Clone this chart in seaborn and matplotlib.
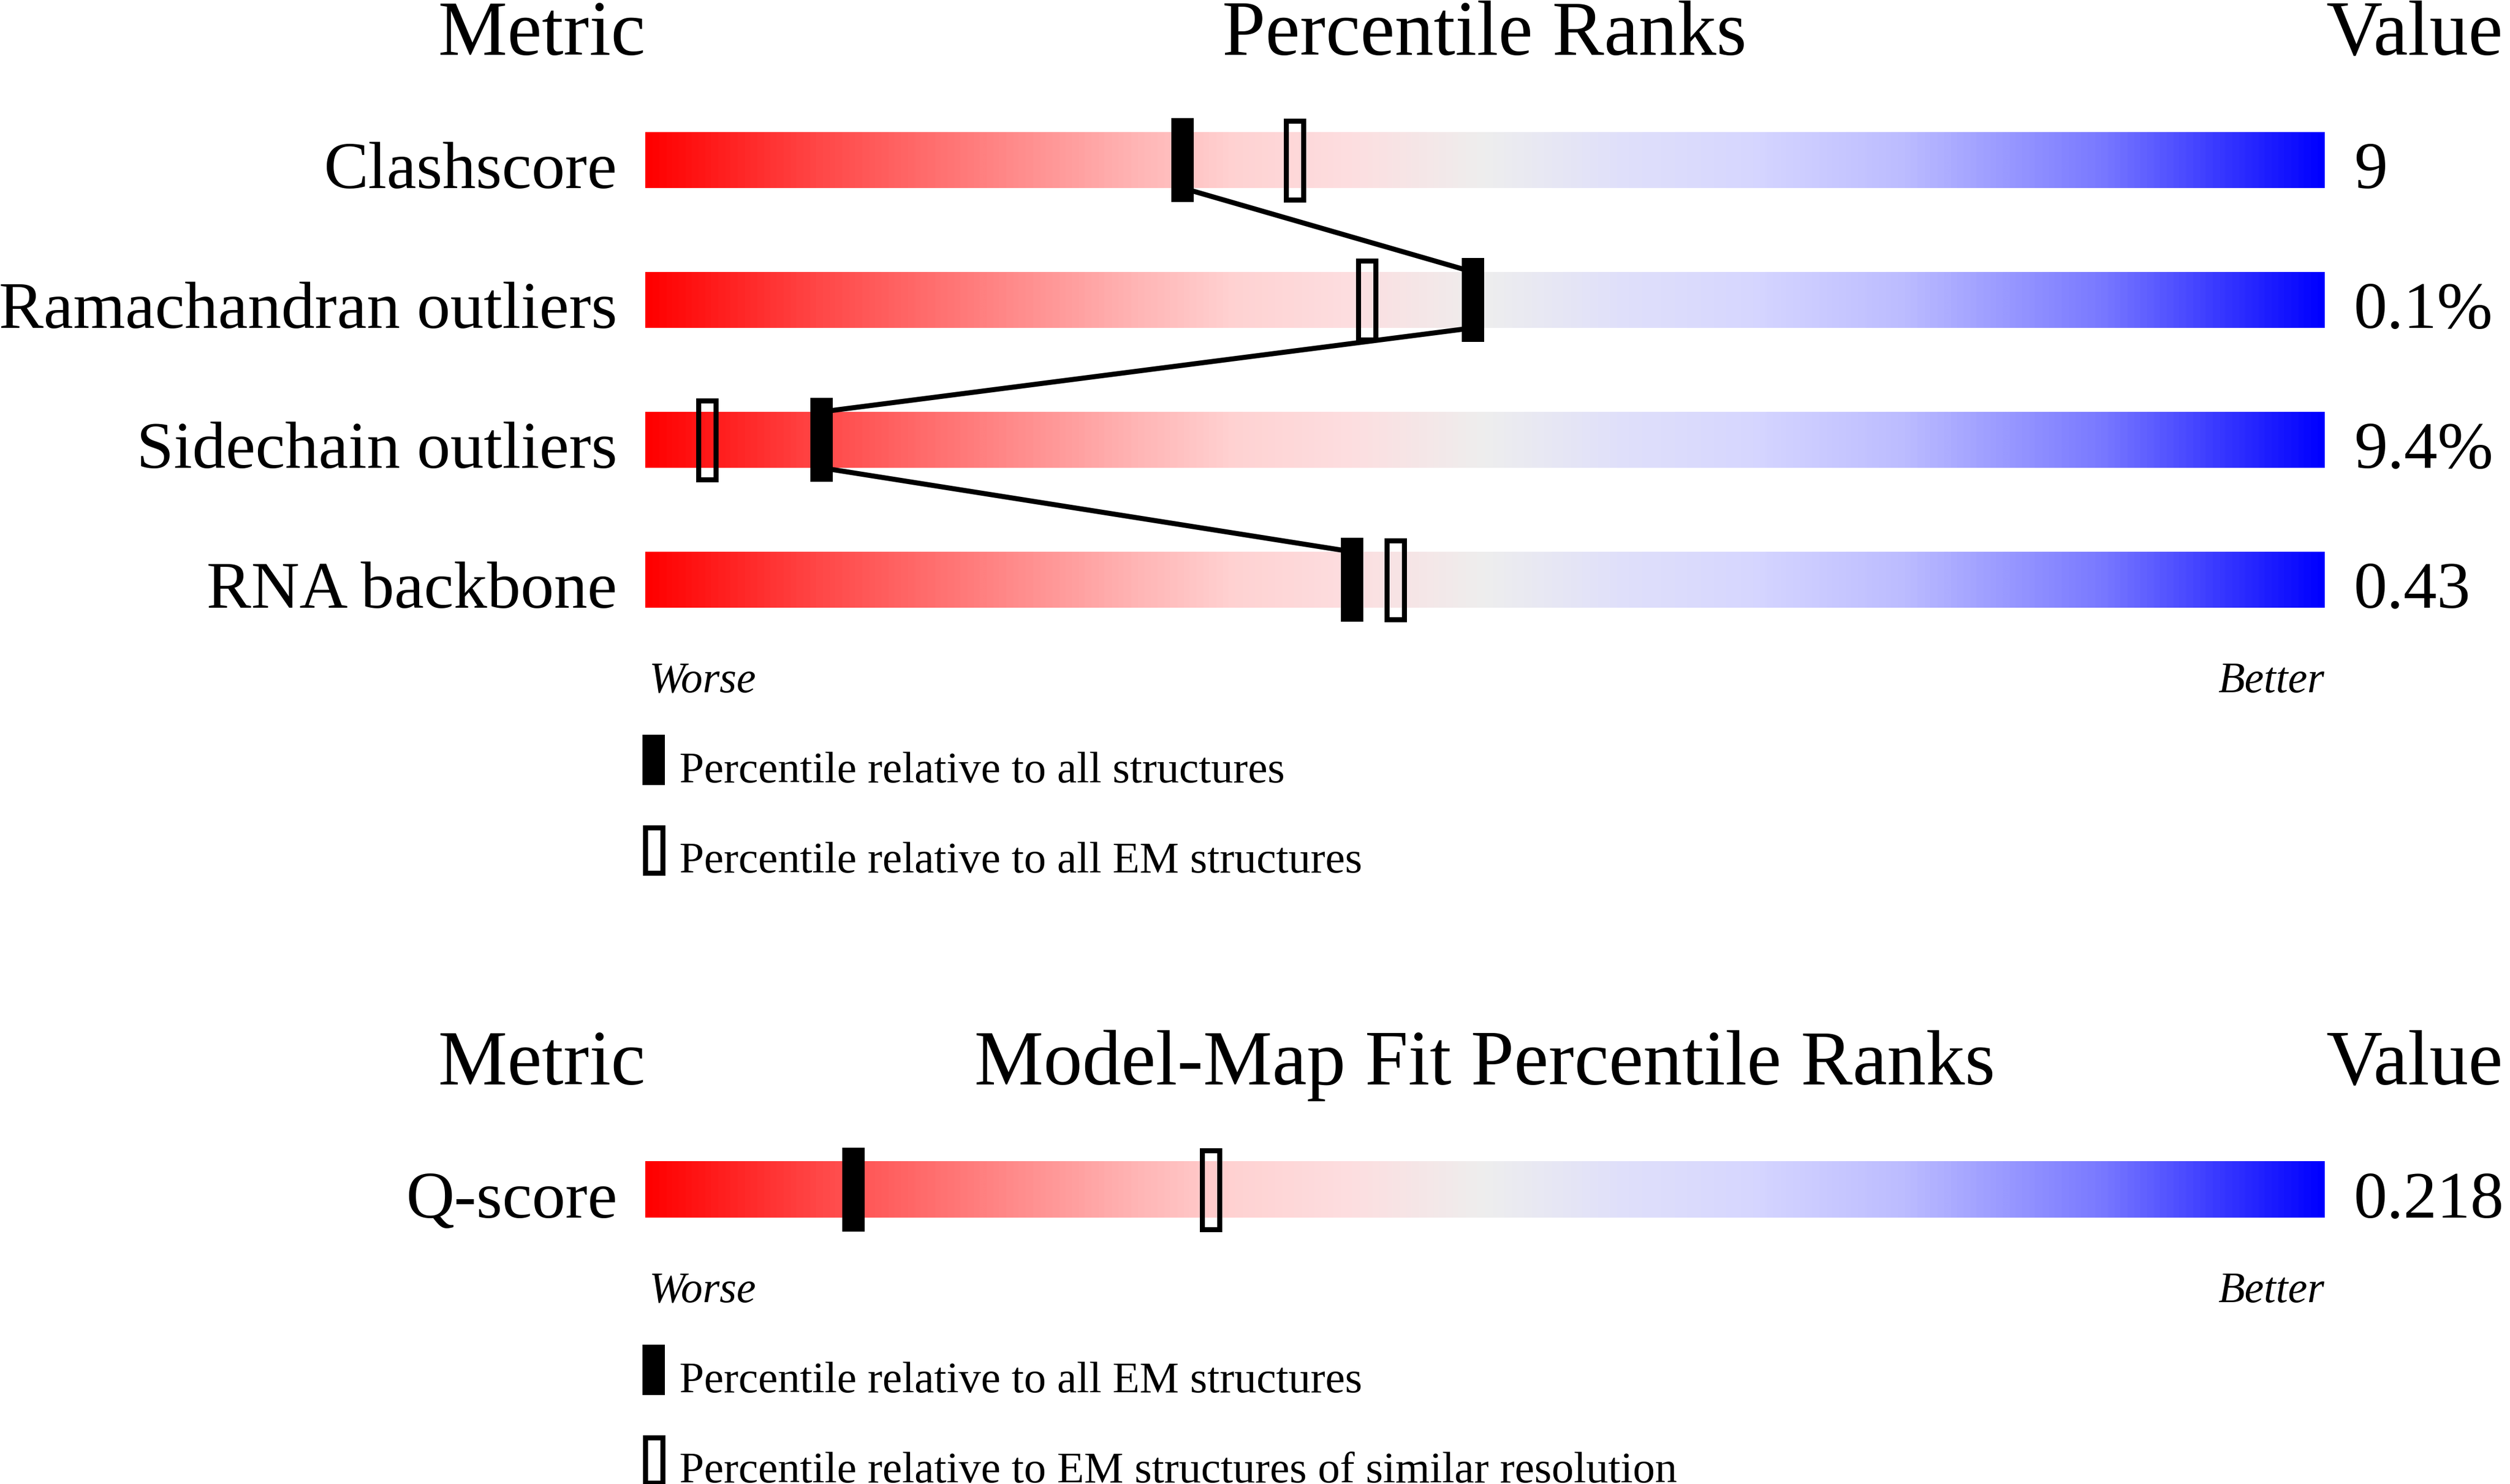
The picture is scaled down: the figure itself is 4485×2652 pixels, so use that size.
import numpy as np
import pandas as pd
import matplotlib
matplotlib.use("Agg")
import matplotlib.pyplot as plt
from matplotlib.patches import Rectangle
from matplotlib.colors import LinearSegmentedColormap
import seaborn as sns

# ---------------- data ----------------
metrics = ["Clashscore", "Ramachandran outliers", "Sidechain outliers", "RNA backbone"]
values = ["9", "0.1%", "9.4%", "0.43"]
pct_all = [32.0, 49.3, 10.5, 42.1]        # percentile relative to all structures
pct_em = [38.7, 43.0, 3.7, 44.7]          # percentile relative to all EM structures

fit_metrics = ["Q-score"]
fit_values = ["0.218"]
fit_pct_all_em = [12.4]                   # relative to all EM structures
fit_pct_similar = [33.7]                  # relative to EM structures of similar resolution

top_titles = ["Metric", "Percentile Ranks", "Value"]
bottom_titles = ["Metric", "Model-Map Fit Percentile Ranks", "Value"]
top_legend = ["Percentile relative to all structures", "Percentile relative to all EM structures"]
bottom_legend = ["Percentile relative to all EM structures",
                 "Percentile relative to EM structures of similar resolution"]
worse_better = ["Worse", "Better"]

# ---------------- style ----------------
sns.set_theme(style="white")
plt.rcParams["font.family"] = ["Liberation Serif", "DejaVu Serif"]
plt.rcParams["text.color"] = "black"

W, H, DPI = 4485, 2652, 100
fig = plt.figure(figsize=(W / DPI, H / DPI), dpi=DPI)
ax = fig.add_axes([0, 0, 1, 1])
ax.set_axis_off()

PX_X = 30.003      # pixels per percentile unit
BAR_LEFT = 1152.7  # pixel of 0 %
PX_Y = 250.0       # pixels per row
ROW0 = 286.0       # pixel centre of first row
ax.set_xlim(-BAR_LEFT / PX_X, (W - BAR_LEFT) / PX_X)
ax.set_ylim((H - ROW0) / PX_Y, -ROW0 / PX_Y)

stops = [(0.0, (255, 0, 0)), (0.10, (255, 70, 70)), (0.20, (255, 128, 128)),
         (0.29, (255, 180, 180)), (0.35, (255, 210, 210)), (0.42, (253, 222, 224)),
         (0.5, (238, 238, 238)), (0.58, (224, 224, 250)), (0.66, (214, 214, 255)),
         (0.75, (188, 188, 255)), (0.87, (120, 120, 255)), (1.0, (0, 0, 255))]
cmap = LinearSegmentedColormap.from_list(
    "slider", [(p, tuple(c / 255 for c in col)) for p, col in stops])
grad = np.linspace(0, 1, 1200).reshape(1, -1)

BAR_H = 0.4
MK_H = 0.6
MK_W = 40 / PX_X
LW_PX = 9
LW = LW_PX * 72 / DPI
dx_in = LW_PX / PX_X
dy_in = LW_PX / PX_Y

TITLE_FS, LABEL_FS, SMALL_FS, LEG_FS = 100, 86, 56, 57


def panel(offset, names, vals, p_fill, p_open, titles, legend):
    rows = [offset + i for i in range(len(names))]
    # titles
    ty = offset - 0.752
    ax.text(0, ty, titles[0], ha="right", va="baseline", fontsize=TITLE_FS)
    ax.text(50, ty, titles[1], ha="center", va="baseline", fontsize=TITLE_FS)
    ax.text(100.13, ty, titles[2], ha="left", va="baseline", fontsize=TITLE_FS)
    for r, name, val, pf, po in zip(rows, names, vals, p_fill, p_open):
        ax.imshow(grad, cmap=cmap, aspect="auto", interpolation="bilinear",
                  extent=(0, 100, r + BAR_H / 2, r - BAR_H / 2), zorder=1)
        ax.text(-50 / PX_X, r + BAR_H / 2, name, ha="right", va="baseline",
                fontsize=LABEL_FS)
        ax.text(100 + 53 / PX_X, r + BAR_H / 2, val, ha="left", va="baseline",
                fontsize=LABEL_FS)
        ax.add_patch(Rectangle((po - MK_W / 2 + dx_in / 2, r - MK_H / 2 + dy_in / 2),
                               MK_W - dx_in, MK_H - dy_in, facecolor="none",
                               edgecolor="black", lw=LW, zorder=4))
        ax.add_patch(Rectangle((pf - MK_W / 2, r - MK_H / 2), MK_W, MK_H,
                               facecolor="black", edgecolor="none", zorder=5))
    # connecting line through filled markers
    if len(rows) > 1:
        xs, ys = [], []
        for r, pf in zip(rows, p_fill):
            xs += [pf, pf]
            ys += [r - BAR_H / 2, r + BAR_H / 2]
        df = pd.DataFrame({"x": xs, "y": ys})
        sns.lineplot(data=df, x="x", y="y", sort=False, estimator=None,
                     color="black", lw=LW, ax=ax, zorder=3)
    last = rows[-1]
    ax.text(7.3 / PX_X, last + 0.804, worse_better[0], ha="left", va="baseline",
            fontsize=SMALL_FS, style="italic")
    ax.text(100, last + 0.804, worse_better[1], ha="right", va="baseline",
            fontsize=SMALL_FS, style="italic")
    # legend
    lx = 15.8 / PX_X
    LG_H = 90 / PX_Y
    c1, c2 = last + 1.288, last + 1.932
    ax.add_patch(Rectangle((lx - MK_W / 2, c1 - LG_H / 2), MK_W, LG_H,
                           facecolor="black", edgecolor="none", zorder=5))
    ax.add_patch(Rectangle((lx - MK_W / 2 + dx_in / 2, c2 - LG_H / 2 + dy_in / 2),
                           MK_W - dx_in, LG_H - dy_in, facecolor="none",
                           edgecolor="black", lw=LW, zorder=5))
    ax.text(61.3 / PX_X, c1 + 0.16, legend[0], ha="left", va="baseline", fontsize=LEG_FS)
    ax.text(61.3 / PX_X, c2 + 0.16, legend[1], ha="left", va="baseline", fontsize=LEG_FS)


panel(0, metrics, values, pct_all, pct_em, top_titles, top_legend)
panel(7.36, fit_metrics, fit_values, fit_pct_all_em, fit_pct_similar, bottom_titles, bottom_legend)

ax.set_xlim(-BAR_LEFT / PX_X, (W - BAR_LEFT) / PX_X)
ax.set_ylim((H - ROW0) / PX_Y, -ROW0 / PX_Y)
if ax.get_legend() is not None:
    ax.get_legend().remove()
ax.set_xlabel("")
ax.set_ylabel("")

fig.savefig("out.png", dpi=DPI, facecolor="white")
